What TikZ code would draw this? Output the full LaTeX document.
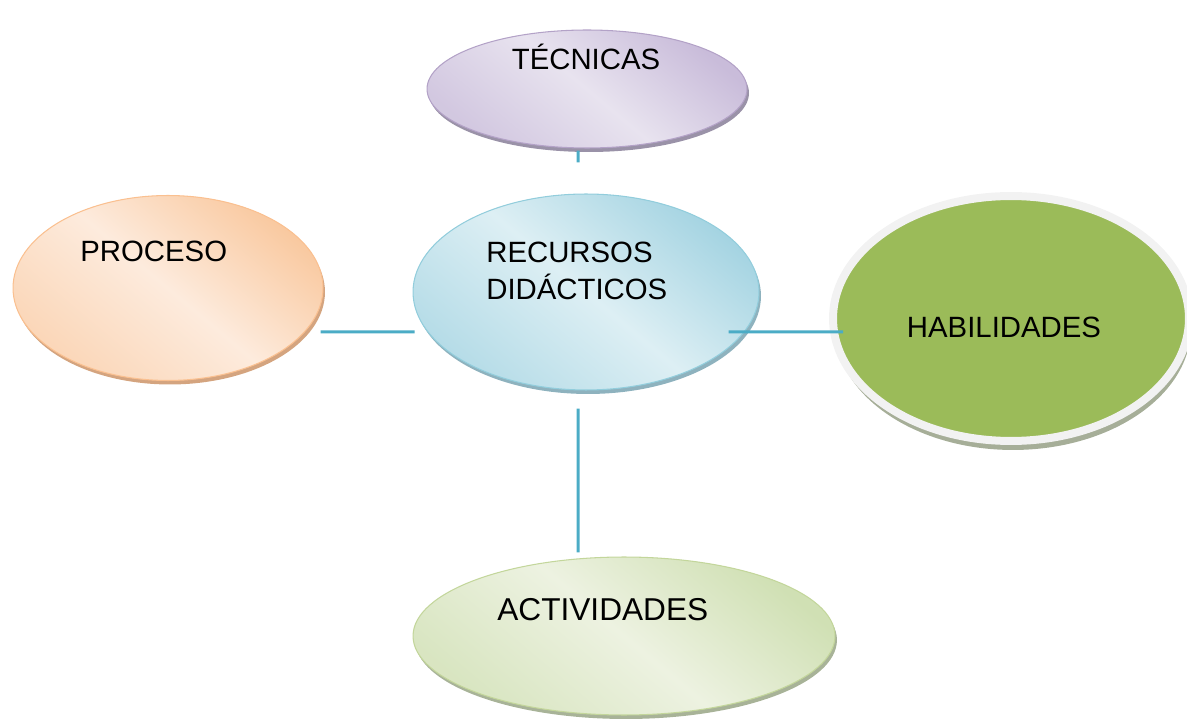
\documentclass[tikz,border=0pt]{standalone}
\usepackage{fontspec}
\setmainfont{Liberation Sans}
\usepackage{tikz}
\usetikzlibrary{shapes, shadows, positioning, calc}
\definecolor{lila}{HTML}{B3A2C7}
\definecolor{lilaD}{HTML}{C9BCDA}
\definecolor{lilaL}{HTML}{E8E3EF}
\definecolor{lilaS}{HTML}{9A92A8}
\definecolor{naranja}{HTML}{FAC090}
\definecolor{naranjaD}{HTML}{F9C9A0}
\definecolor{naranjaL}{HTML}{FDEBDD}
\definecolor{naranjaS}{HTML}{D4A47F}
\definecolor{celeste}{HTML}{92CDDC}
\definecolor{celesteD}{HTML}{A5D4E2}
\definecolor{celesteL}{HTML}{DDEFF4}
\definecolor{celesteS}{HTML}{8EB2BE}
\definecolor{oliva}{HTML}{C3D69B}
\definecolor{olivaD}{HTML}{D0E0B4}
\definecolor{olivaL}{HTML}{EDF2E1}
\definecolor{olivaS}{HTML}{A8B398}
\definecolor{verde}{HTML}{9BBB59}
\definecolor{verdeS}{HTML}{A6AE98}
\definecolor{anillo}{HTML}{F2F2F2}
\definecolor{enlace}{HTML}{4BACC6}
\tikzstyle{burbuja} = [ellipse, inner sep=0pt, line width=0.6pt]
\tikzstyle{tecnica} = [burbuja, draw=lila, minimum width=6.4cm, minimum height=2.36cm, top color=lilaD, bottom color=lilaD!70!lilaL, middle color=lilaL, shading angle=-40, drop shadow={shadow xshift=0.04cm, shadow yshift=-0.08cm, fill=lilaS, opacity=1}]
\tikzstyle{proceso} = [burbuja, draw=naranja, minimum width=6.2cm, minimum height=3.7cm, top color=naranjaD, bottom color=naranjaD!60!naranjaL, middle color=naranjaL, shading angle=-40, drop shadow={shadow xshift=0.04cm, shadow yshift=-0.08cm, fill=naranjaS, opacity=1}]
\tikzstyle{recurso} = [burbuja, draw=celeste, minimum width=6.92cm, minimum height=3.92cm, top color=celesteD, bottom color=celesteD!70!celesteL, middle color=celesteL, shading angle=-40, drop shadow={shadow xshift=0.04cm, shadow yshift=-0.08cm, fill=celesteS, opacity=1}]
\tikzstyle{actividad} = [burbuja, draw=oliva, minimum width=8.44cm, minimum height=3.16cm, top color=olivaD, bottom color=olivaD!70!olivaL, middle color=olivaL, shading angle=-40, drop shadow={shadow xshift=0.04cm, shadow yshift=-0.08cm, fill=olivaS, opacity=1}]
\tikzstyle{habilidad} = [ellipse, inner sep=0pt, draw=anillo, line width=0.16cm, fill=verde, minimum width=7.12cm, minimum height=4.9cm, drop shadow={shadow xshift=0.04cm, shadow yshift=-0.18cm, fill=verdeS, opacity=1}]
\tikzstyle{texto} = [inner sep=0pt, font=\fontsize{16.7}{21.5}\selectfont, text=black]
\tikzstyle{enlace} = [draw=enlace, line width=0.06cm]

\begin{document}
\begin{tikzpicture}[x=0.02cm, y=-0.02cm]
\useasboundingbox (0,0) rectangle (1187,719);
% burbujas
\node (tec) [tecnica] at (587,89) {};
\node (proc) [proceso] at (168,288) {};
\node (rec) [recurso] at (586,292) {};
\node (hab) [habilidad] at (1011,318.5) {};
\node (act) [actividad] at (624,636) {};
% textos
\node (tecT) [texto, anchor=base] at (586,70) {TÉCNICAS};
\node (procT) [texto, anchor=base west] at (80,262) {PROCESO};
\node (recT) [texto, anchor=base west, align=left] at (486,300) {RECURSOS\\DIDÁCTICOS};
\node (habT) [texto, anchor=base] at (1004,338) {HABILIDADES};
\node (actT) [texto, anchor=base west, font=\fontsize{18}{21.5}\selectfont] at (497,620) {ACTIVIDADES};
% enlaces
\draw[enlace, shorten <=0.04cm, shorten >=0.62cm] ([xshift=-0.18cm]tec.south) -- ([xshift=-0.16cm]rec.north);
\draw[enlace] ([xshift=-0.06cm, yshift=-0.88cm]proc.east) -- ([xshift=0.04cm, yshift=-0.8cm]rec.west);
\draw[enlace] ([xshift=-0.62cm, yshift=-0.8cm]rec.east) -- ([xshift=0.28cm, yshift=-0.27cm]hab.west);
\draw[enlace] ([xshift=-0.16cm, yshift=-0.36cm]rec.south) -- ([xshift=-0.92cm, yshift=0.08cm]act.north);
\end{tikzpicture}
\end{document}
